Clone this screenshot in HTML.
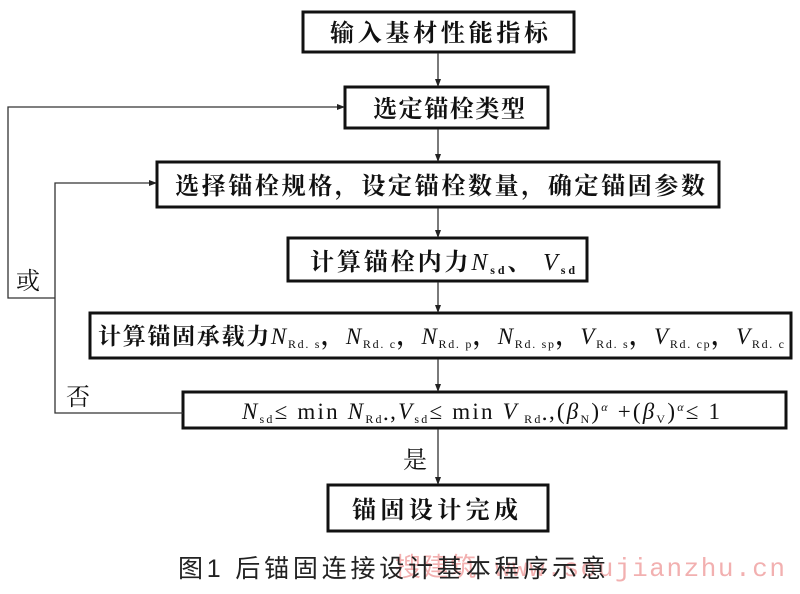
<!DOCTYPE html>
<html><head><meta charset="utf-8"><style>
body{margin:0;background:#fff;}
svg text{font-family:"Liberation Serif","Noto Serif CJK SC",serif;fill:#111;}
</style></head><body>
<svg width="800" height="589" viewBox="0 0 800 589" xmlns="http://www.w3.org/2000/svg">
<defs><marker id="a" markerWidth="8" markerHeight="8" refX="7" refY="4" orient="auto" markerUnits="userSpaceOnUse"><path d="M0,1 L8,4 L0,7 z" fill="#222"/></marker></defs>
<g fill="none" stroke="#111" stroke-width="3">
<rect x="303" y="12" width="271" height="40"/>
<rect x="345" y="87" width="203" height="41"/>
<rect x="157" y="162" width="562" height="45"/>
<rect x="288" y="238" width="299" height="43"/>
<rect x="90" y="313" width="701" height="45"/>
<rect x="183" y="392" width="603" height="36"/>
<rect x="328" y="485" width="220" height="46"/>
</g>
<g fill="none" stroke="#333" stroke-width="1.3">
<line x1="438" y1="53" x2="438" y2="86" marker-end="url(#a)"/>
<line x1="438" y1="129" x2="438" y2="161" marker-end="url(#a)"/>
<line x1="438" y1="208" x2="438" y2="237" marker-end="url(#a)"/>
<line x1="438" y1="282" x2="438" y2="312" marker-end="url(#a)"/>
<line x1="438" y1="359" x2="438" y2="391" marker-end="url(#a)"/>
<line x1="438" y1="429" x2="438" y2="484" marker-end="url(#a)"/>
<polyline points="183,413 55,413 55,183 156,183" marker-end="url(#a)"/>
<polyline points="55,298 8,298 8,107 344,107" marker-end="url(#a)"/>
</g>
<g font-size="24">
<text x="330" y="41" textLength="218" lengthAdjust="spacing" font-weight="bold">输入基材性能指标</text>
<text x="373" y="117" textLength="152" lengthAdjust="spacing" font-weight="bold">选定锚栓类型</text>
<text x="175" y="194" textLength="530" lengthAdjust="spacing" font-weight="bold">选择锚栓规格，设定锚栓数量，确定锚固参数</text>
<text x="310" y="270" textLength="265" lengthAdjust="spacing" font-weight="bold">计算锚栓内力<tspan font-style="italic" font-weight="normal">N</tspan><tspan font-size="12" dy="4">sd</tspan><tspan dy="-4">、 </tspan><tspan font-style="italic" font-weight="normal">V</tspan><tspan font-size="12" dy="4">sd</tspan></text>
<text x="98" y="344" textLength="686" lengthAdjust="spacing" font-weight="bold" font-size="23">计算锚固承载力<tspan font-style="italic" font-weight="normal">N</tspan><tspan font-size="12" dy="4" font-weight="normal">Rd. s</tspan><tspan dy="-4">，</tspan><tspan font-style="italic" font-weight="normal">N</tspan><tspan font-size="12" dy="4" font-weight="normal">Rd. c</tspan><tspan dy="-4">，</tspan><tspan font-style="italic" font-weight="normal">N</tspan><tspan font-size="12" dy="4" font-weight="normal">Rd. p</tspan><tspan dy="-4">，</tspan><tspan font-style="italic" font-weight="normal">N</tspan><tspan font-size="12" dy="4" font-weight="normal">Rd. sp</tspan><tspan dy="-4">，</tspan><tspan font-style="italic" font-weight="normal">V</tspan><tspan font-size="12" dy="4" font-weight="normal">Rd. s</tspan><tspan dy="-4">，</tspan><tspan font-style="italic" font-weight="normal">V</tspan><tspan font-size="12" dy="4" font-weight="normal">Rd. cp</tspan><tspan dy="-4">，</tspan><tspan font-style="italic" font-weight="normal">V</tspan><tspan font-size="12" dy="4" font-weight="normal">Rd. c</tspan></text>
<text x="242" y="419" textLength="478" lengthAdjust="spacing" font-size="23"><tspan font-style="italic">N</tspan><tspan font-size="12" dy="4">sd</tspan><tspan dy="-4">≤ min </tspan><tspan font-style="italic">N</tspan><tspan font-size="12" dy="4">Rd•</tspan><tspan dy="-4">,</tspan><tspan font-style="italic">V</tspan><tspan font-size="12" dy="4">sd</tspan><tspan dy="-4">≤ min </tspan><tspan font-style="italic">V</tspan><tspan font-size="12" dy="4"> Rd•</tspan><tspan dy="-4">,(</tspan><tspan font-style="italic">β</tspan><tspan font-size="12" dy="4">N</tspan><tspan dy="-4">)</tspan><tspan font-size="12" dy="-8" font-style="italic">α</tspan><tspan dy="8"> +(</tspan><tspan font-style="italic">β</tspan><tspan font-size="12" dy="4">V</tspan><tspan dy="-4">)</tspan><tspan font-size="12" dy="-8" font-style="italic">α</tspan><tspan dy="8">≤ 1</tspan></text>
<text x="352" y="518" textLength="166" lengthAdjust="spacing" font-weight="bold">锚固设计完成</text>
<text x="16" y="289">或</text>
<text x="66" y="405">否</text>
<text x="403" y="468">是</text>
</g>
<text x="395" y="576" font-size="26" textLength="390" lengthAdjust="spacing" style="fill:#f2b0b0;font-family:'Liberation Mono','Noto Sans CJK SC',monospace">搜建筑 www.soujianzhu.cn</text>
<text x="178" y="577" font-size="25" textLength="428" lengthAdjust="spacing" style="font-family:'Liberation Sans','Noto Sans CJK SC',sans-serif;fill:#222">图1 后锚固连接设计基本程序示意</text>
</svg>
</body></html>
